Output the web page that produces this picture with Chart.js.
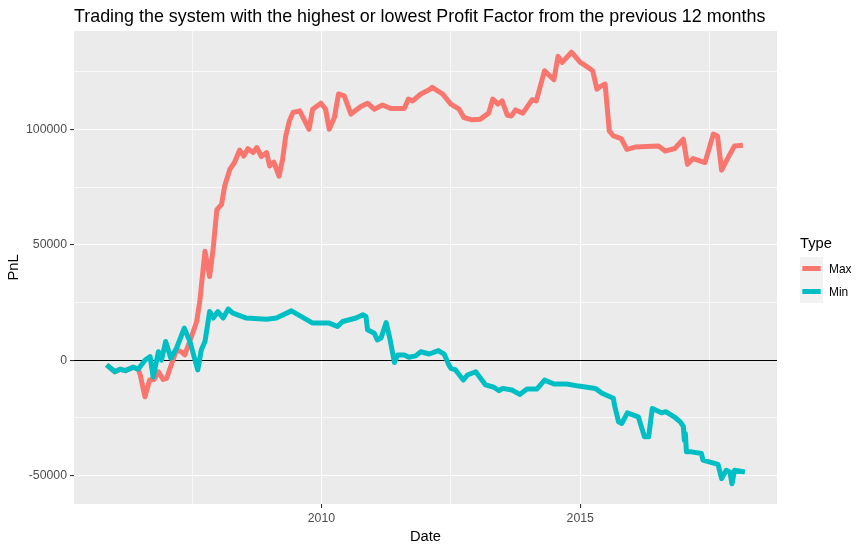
<!DOCTYPE html>
<html>
<head>
<meta charset="utf-8">
<title>Trading the system with the highest or lowest Profit Factor</title>
<script src="https://cdn.jsdelivr.net/npm/chart.js@4.4.0/dist/chart.umd.min.js"></script>
<style>
html, body { margin: 0; padding: 0; background: #fff; }
#wrap { position: relative; width: 865px; height: 551px; }
</style>
</head>
<body>
<div id="wrap"><canvas id="chart"></canvas></div>
<script>
// series (date as decimal year, PnL)
const maxDate = [2005.85, 2006.01, 2006.11, 2006.21, 2006.37, 2006.46, 2006.50, 2006.59, 2006.68, 2006.77,
  2006.85, 2006.94, 2007.01, 2007.12, 2007.20, 2007.29, 2007.36, 2007.49, 2007.59, 2007.65,
  2007.75, 2007.84, 2007.91, 2007.98, 2008.07, 2008.13, 2008.23, 2008.32, 2008.42, 2008.50,
  2008.58, 2008.68, 2008.75, 2008.84, 2008.94, 2009.00, 2009.08, 2009.18, 2009.25, 2009.31,
  2009.38, 2009.45, 2009.58, 2009.76, 2009.83, 2009.99, 2010.08, 2010.15, 2010.25, 2010.33,
  2010.44, 2010.57, 2010.76, 2010.89, 2011.02, 2011.18, 2011.34, 2011.60, 2011.68, 2011.76,
  2011.92, 2012.08, 2012.14, 2012.34, 2012.50, 2012.66, 2012.75, 2012.91, 2013.07, 2013.23,
  2013.31, 2013.41, 2013.49, 2013.59, 2013.67, 2013.75, 2013.89, 2014.07, 2014.15, 2014.31,
  2014.49, 2014.57, 2014.65, 2014.83, 2015.00, 2015.10, 2015.24, 2015.32, 2015.39, 2015.48,
  2015.56, 2015.64, 2015.79, 2015.90, 2016.06, 2016.51, 2016.64, 2016.82, 2016.99, 2017.07,
  2017.18, 2017.41, 2017.57, 2017.65, 2017.73, 2017.89, 2017.98, 2018.14]
const maxPnl = [-2000, -5000, -3900, -4500, -3000, -3900, -6400, -15800, -8600, -8300,
  -5000, -8300, -7800, -600, 4500, 3700, 2300, 10300, 16800, 25500,
  47200, 36300, 48700, 65300, 67500, 75500, 82700, 85700, 91100, 88500,
  91700, 90000, 92200, 88300, 90000, 84200, 85900, 79800, 87100, 97200,
  103700, 107400, 108100, 100100, 108800, 111400, 108800, 100100, 105200, 115400,
  114600, 106700, 110000, 111400, 108800, 110600, 109100, 109100, 113200, 112400,
  115400, 117200, 118300, 115400, 111000, 108800, 105200, 104200, 104500, 107100,
  113200, 111000, 112400, 106200, 105900, 108500, 107100, 112900, 112400, 125500,
  121600, 131700, 129100, 133500, 129100, 127700, 125500, 117500, 118700, 119700,
  99400, 97200, 96100, 91400, 92400, 92900, 90700, 91700, 95800, 84900,
  87400, 85700, 98000, 97200, 82400, 89300, 92900, 93200]

const minDate = [2005.85, 2006.01, 2006.11, 2006.21, 2006.37, 2006.46, 2006.59, 2006.69, 2006.75, 2006.85,
  2006.91, 2006.99, 2007.09, 2007.20, 2007.35, 2007.46, 2007.61, 2007.68, 2007.75, 2007.84,
  2007.91, 2008.00, 2008.10, 2008.20, 2008.29, 2008.55, 2008.94, 2009.13, 2009.42, 2009.83,
  2010.15, 2010.31, 2010.41, 2010.67, 2010.80, 2010.86, 2010.89, 2011.02, 2011.08, 2011.15,
  2011.25, 2011.32, 2011.41, 2011.47, 2011.60, 2011.69, 2011.82, 2011.92, 2012.08, 2012.26,
  2012.37, 2012.46, 2012.50, 2012.59, 2012.74, 2012.82, 2012.98, 2013.17, 2013.33, 2013.43,
  2013.50, 2013.68, 2013.83, 2013.97, 2014.16, 2014.31, 2014.49, 2014.74, 2014.97, 2015.29,
  2015.42, 2015.64, 2015.66, 2015.74, 2015.80, 2015.91, 2016.12, 2016.24, 2016.32, 2016.39,
  2016.57, 2016.65, 2016.83, 2016.93, 2016.99, 2017.01, 2017.03, 2017.05, 2017.15, 2017.34,
  2017.37, 2017.66, 2017.73, 2017.82, 2017.89, 2017.93, 2017.98, 2018.18]
const minPnl = [-2000, -5000, -3900, -4500, -3000, -3900, 0, 1600, -7400, 3700,
  0, 8100, 900, 5200, 13900, 8100, -4200, 4500, 8100, 21100,
  18300, 21100, 18300, 22200, 20400, 18300, 17800, 18300, 21400, 16100,
  16100, 14600, 16800, 18300, 19700, 19000, 13200, 11700, 8800, 9600,
  16300, 9600, -1000, 2300, 2300, 1300, 1900, 3700, 2700, 4200,
  2700, -2000, -3500, -4200, -8600, -6400, -5000, -10700, -11700, -13200,
  -12200, -12900, -14800, -12500, -12500, -8600, -10300, -10300, -11200, -12200,
  -14300, -16500, -19400, -26700, -27400, -22800, -24500, -33200, -33200, -20900,
  -22800, -22300, -24800, -26700, -28600, -34700, -31700, -39700, -39700, -40400,
  -43300, -45100, -51300, -47700, -48400, -53500, -47700, -48400]

const seriesNames = ['Max', 'Min']
const seriesColors = ['#F8766D', '#00BFC4']

// axis breaks: every tick gets a grid line, only the major ones get a label
const xTicks = [2007.5, 2010, 2012.5, 2015, 2017.5]
const xLabels = ['', '2010', '', '2015', '']
const yTicks = [-50000, -25000, 0, 25000, 50000, 75000, 100000, 125000]
const yLabels = ['-50000', '', '0', '', '50000', '', '100000', '']

const font = '"Liberation Sans", Arial, sans-serif'

const panelBg = {
  id: 'panelBg',
  beforeDraw(chart) {
    const a = chart.chartArea, c = chart.ctx
    c.save()
    c.fillStyle = '#EBEBEB'
    c.fillRect(a.left, a.top, a.right - a.left, a.bottom - a.top)
    c.restore()
  }
}

const titleAndLegend = {
  id: 'titleAndLegend',
  afterDraw(chart) {
    const c = chart.ctx
    c.save()
    c.fillStyle = '#000'
    c.textBaseline = 'alphabetic'
    c.textAlign = 'left'
    c.font = '17.9px ' + font
    c.fillText('Trading the system with the highest or lowest Profit Factor from the previous 12 months', chart.chartArea.left, 22)

    // ggplot-like legend on the right
    const lx = 800
    c.font = '14.7px ' + font
    c.fillText('Type', lx, 248)
    seriesNames.forEach((name, i) => {
      const top = 257 + i * 23
      c.fillStyle = '#F2F2F2'
      c.fillRect(lx, top, 23, 23)
      c.strokeStyle = seriesColors[i]
      c.lineWidth = 5
      c.beginPath()
      c.moveTo(lx + 2.3, top + 11.5)
      c.lineTo(lx + 20.7, top + 11.5)
      c.stroke()
      c.fillStyle = '#000'
      c.font = '11.9px ' + font
      c.fillText(name, lx + 29, top + 16)
    })
    c.restore()
  }
}

function gridColor(ctx, zeroBlack) {
  if (!ctx.tick) return '#fff'
  if (zeroBlack && ctx.tick.value === 0) return '#000'
  return '#fff'
}

const ctx = document.getElementById('chart').getContext('2d')
const myChart = new Chart(ctx, {
  type: 'line',
  data: {
    datasets: [
      {
        label: seriesNames[0],
        data: maxDate.map((d, i) => ({ x: d, y: maxPnl[i] })),
        borderColor: seriesColors[0],
        order: 2
      },
      {
        label: seriesNames[1],
        data: minDate.map((d, i) => ({ x: d, y: minPnl[i] })),
        borderColor: seriesColors[1],
        order: 1
      }
    ]
  },
  options: {
    responsive: true,
    maintainAspectRatio: false,
    animation: false,
    devicePixelRatio: 1,
    layout: { padding: { left: 0, right: 88, top: 31, bottom: 0 } },
    elements: {
      line: { borderWidth: 5, tension: 0, borderJoinStyle: 'round', borderCapStyle: 'butt', fill: false },
      point: { radius: 0, hoverRadius: 0 }
    },
    plugins: {
      legend: { display: false },
      title: { display: false },
      tooltip: { enabled: false }
    },
    scales: {
      x: {
        type: 'linear',
        min: 2005.22,
        max: 2018.80,
        afterBuildTicks: s => { s.ticks = xTicks.map(v => ({ value: v })) },
        afterFit: s => { s.height = 47 },
        border: { display: false },
        grid: {
          color: '#fff',
          lineWidth: c => (c.index % 2 === 1 ? 1.1 : 0.7),
          tickLength: 4,
          tickColor: c => (c.index % 2 === 1 ? '#333333' : 'rgba(0,0,0,0)')
        },
        ticks: {
          autoSkip: false,
          maxRotation: 0,
          padding: 3,
          color: '#4D4D4D',
          font: { family: font, size: 12.3 },
          callback: (v, i) => xLabels[i]
        },
        title: {
          display: true,
          text: 'Date',
          color: '#000',
          font: { family: font, size: 14.7 },
          padding: { top: 0, bottom: 5 }
        }
      },
      y: {
        type: 'linear',
        min: -62300,
        max: 142700,
        afterBuildTicks: s => { s.ticks = yTicks.map(v => ({ value: v })) },
        afterFit: s => { s.width = 74 },
        border: { display: false },
        grid: {
          color: c => gridColor(c, true),
          lineWidth: c => (c.index % 2 === 0 ? 1.1 : 0.7),
          tickLength: 4,
          tickColor: c => (c.index % 2 === 0 ? '#333333' : 'rgba(0,0,0,0)')
        },
        ticks: {
          autoSkip: false,
          padding: 3,
          color: '#4D4D4D',
          font: { family: font, size: 12.3 },
          callback: (v, i) => yLabels[i]
        },
        title: {
          display: true,
          text: 'PnL',
          color: '#000',
          font: { family: font, size: 14.7 },
          padding: { top: 5, bottom: 0 }
        }
      }
    }
  },
  plugins: [panelBg, titleAndLegend]
})
</script>
</body>
</html>
